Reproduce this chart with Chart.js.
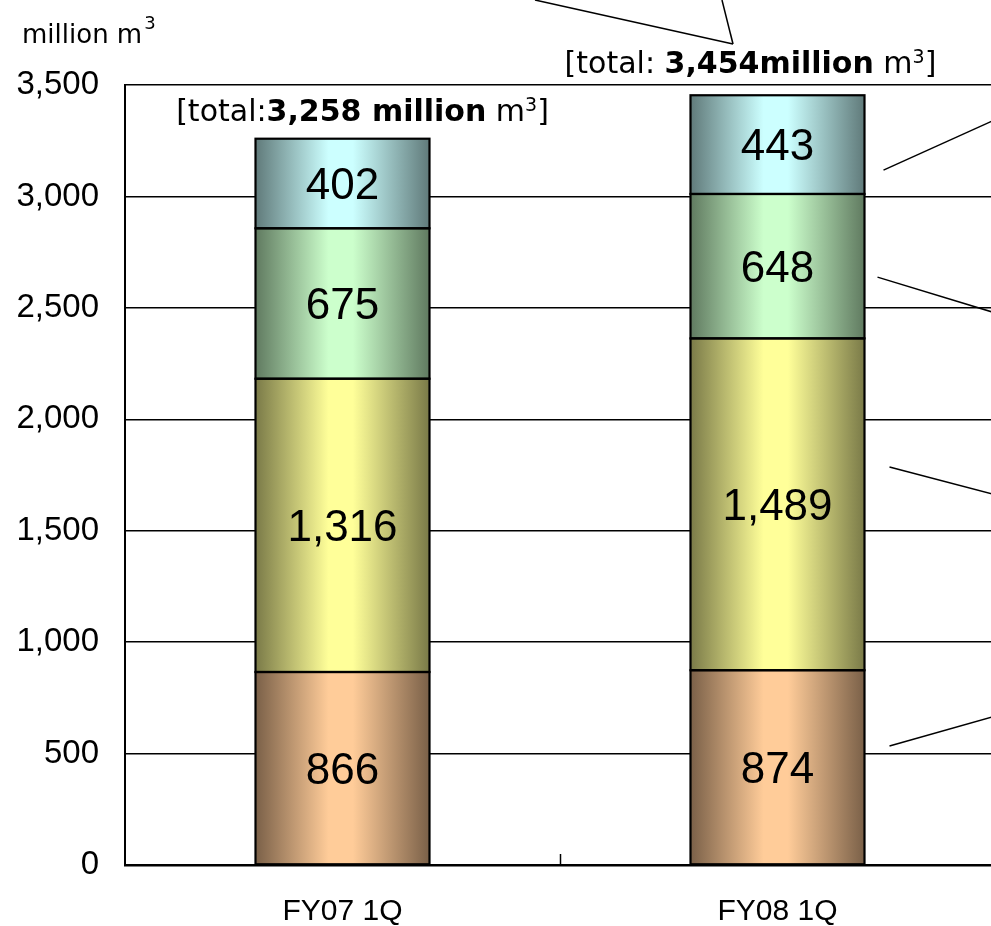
<!DOCTYPE html>
<html><head><meta charset="utf-8">
<script src="https://cdn.jsdelivr.net/npm/chart.js@4/dist/chart.umd.min.js"></script>
<style>
html,body{margin:0;padding:0;overflow:hidden;background:#fff;width:991px;height:926px}
#wrap{position:relative;width:1000px;height:926px}
</style>
</head><body><div id="wrap"><canvas id="c" width="1000" height="926"></canvas></div>
<script>
// ---- data ----
const categories = ['FY07 1Q', 'FY08 1Q'];
const seriesNames = ['Residential', 'Industrial', 'Commercial', 'Wholesale'];
const residential = [866, 874];
const industrial = [1316, 1489];
const commercial = [675, 648];
const wholesale = [402, 443];
const totals = [3258, 3454];
const yTickMax = 3500;
const yTickStep = 500;
const unitText = 'million m';
const unitSup = '3';
// total label text pieces: [text, bold, superscript]
const totalLabelParts = [
  [['[total:', false, false], ['3,258 million', true, false], [' m', false, false], ['3', false, true], [']', false, false]],
  [['[total: ', false, false], ['3,454million', true, false], [' m', false, false], ['3', false, true], [']', false, false]]
];

// ---- styles ----
const centerColors = ['#ffcc99', '#ffff99', '#ccffcc', '#ccffff'];
const edgeColors = ['#7a6048', '#7a7a48', '#607a60', '#607a7a'];
const BAR_PCT = 0.4;
const seriesData = [residential, industrial, commercial, wholesale];

function gradFill(i) {
  return (ctx) => {
    const chart = ctx.chart;
    const ca = chart.chartArea;
    if (!ca || ctx.type !== 'data' || !chart.scales.x) return centerColors[i];
    const cx = chart.scales.x.getPixelForValue(ctx.dataIndex);
    const w = (ca.right - ca.left) / categories.length * BAR_PCT;
    const g = chart.ctx.createLinearGradient(cx - w / 2, 0, cx + w / 2, 0);
    g.addColorStop(0, edgeColors[i]);
    g.addColorStop(0.42, centerColors[i]);
    g.addColorStop(0.56, centerColors[i]);
    g.addColorStop(1, edgeColors[i]);
    return g;
  };
}

const annot = {
  id: 'annot',
  afterDraw(chart, args, opts) {
    const ctx = chart.ctx;
    const ys = chart.scales.y, xs = chart.scales.x;
    ctx.save();
    // unit label
    ctx.fillStyle = '#000';
    ctx.textBaseline = 'alphabetic';
    ctx.textAlign = 'left';
    ctx.font = '26px "DejaVu Sans"';
    ctx.fillText(unitText, 22, 43);
    const uw = ctx.measureText(unitText).width;
    ctx.font = '18px "DejaVu Sans"';
    ctx.fillText(unitSup, 22 + uw + 2, 29);

    // inward category separator tick
    ctx.strokeStyle = '#000';
    ctx.lineWidth = 1.5;
    for (let i = 0; i < categories.length - 1; i++) {
      const x = Math.round((xs.getPixelForValue(i) + xs.getPixelForValue(i + 1)) / 2) + 0.5;
      ctx.beginPath();
      ctx.moveTo(x, ys.bottom - 11);
      ctx.lineTo(x, ys.bottom);
      ctx.stroke();
    }

    // total labels
    const topMeta = chart.getDatasetMeta(chart.data.datasets.length - 1);
    totalLabelParts.forEach((parts, j) => {
      const bar = topMeta.data[j];
      const off = opts.totalOffsets[j];
      const size = 30;
      let total = 0;
      const widths = parts.map(p => {
        ctx.font = (p[1] ? 'bold ' : '') + (p[2] ? 19 : size) + 'px "DejaVu Sans"';
        const w = ctx.measureText(p[0]).width;
        total += w;
        return w;
      });
      let x = bar.x + off.dx - total / 2;
      const base = ys.getPixelForValue(totals[j]) - off.dy;
      parts.forEach((p, k) => {
        ctx.font = (p[1] ? 'bold ' : '') + (p[2] ? 19 : size) + 'px "DejaVu Sans"';
        ctx.fillText(p[0], x, p[2] ? base - 10 : base);
        x += widths[k];
      });
    });

    // leader lines (right side)
    ctx.lineWidth = 1.5;
    const lastMeta = chart.getDatasetMeta(0);
    const rbar = lastMeta.data[categories.length - 1];
    const right = rbar.x + rbar.width / 2;
    opts.leaders.forEach(l => {
      ctx.beginPath();
      ctx.moveTo(right + l[0], ys.getPixelForValue(l[1]));
      ctx.lineTo(right + l[2], ys.getPixelForValue(l[3]));
      ctx.stroke();
    });
    opts.topLeaders.forEach(l => {
      ctx.beginPath();
      ctx.moveTo(l[0], l[1]);
      ctx.lineTo(l[2], l[3]);
      ctx.stroke();
    });
    ctx.restore();
  }
};

const valueLabels = {
  id: 'valueLabels',
  afterDatasetsDraw(chart) {
    const ctx = chart.ctx;
    ctx.save();
    // outlines
    ctx.strokeStyle = '#000';
    ctx.lineWidth = 2.2;
    chart.data.datasets.forEach((ds, di) => {
      chart.getDatasetMeta(di).data.forEach(bar => {
        const l = bar.x - bar.width / 2, r = bar.x + bar.width / 2;
        const t = Math.min(bar.y, bar.base), b = Math.max(bar.y, bar.base);
        ctx.strokeRect(l, t, r - l, b - t);
      });
    });
    ctx.fillStyle = '#000';
    ctx.textAlign = 'center';
    ctx.textBaseline = 'alphabetic';
    const size = 44;
    ctx.font = size + 'px "Liberation Sans", Arial, sans-serif';
    chart.data.datasets.forEach((ds, di) => {
      const meta = chart.getDatasetMeta(di);
      meta.data.forEach((bar, j) => {
        const mid = (bar.y + bar.base) / 2;
        ctx.fillText(ds.data[j].toLocaleString('en-US'), bar.x, mid + size * 0.358);
      });
    });
    ctx.restore();
  }
};

new Chart(document.getElementById('c'), {
  type: 'bar',
  data: {
    labels: categories,
    datasets: seriesData.map((d, i) => ({
      label: seriesNames[i],
      data: d,
      backgroundColor: gradFill(i),
      borderWidth: 0,
      barPercentage: BAR_PCT,
      categoryPercentage: 1.0
    }))
  },
  options: {
    responsive: false,
    animation: false,
    devicePixelRatio: 1,
    layout: { padding: { top: 85, right: 5, left: 0, bottom: 0 } },
    plugins: {
      legend: { display: false },
      tooltip: { enabled: false },
      annot: {
        totalOffsets: [{ dx: 20, dy: 18 }, { dx: -27, dy: 22 }],
        leaders: [[19, 3118, 136, 3355], [13, 2638, 136, 2470], [25, 1786, 136, 1655], [25, 534, 136, 675]],
        topLeaders: [[535, 0, 733, 44], [722, 0, 733, 44]]
      }
    },
    scales: {
      x: {
        stacked: true,
        ticks: { color: '#000', font: { family: '"Liberation Sans", Arial, sans-serif', size: 30 }, padding: 29 },
        grid: { display: false, drawTicks: false },
        border: { color: '#000', width: 2.5 },
        afterFit(s) { s.height = 61; }
      },
      y: {
        stacked: true,
        min: 0,
        max: yTickMax,
        ticks: { stepSize: yTickStep, color: '#000', font: { family: '"Liberation Sans", Arial, sans-serif', size: 33 }, padding: 26 },
        grid: { color: '#000', lineWidth: 1.5, drawTicks: false },
        border: { color: '#000', width: 2 },
        afterFit(s) { s.width = 125; }
      }
    }
  },
  plugins: [valueLabels, annot]
});
</script>
</body></html>
